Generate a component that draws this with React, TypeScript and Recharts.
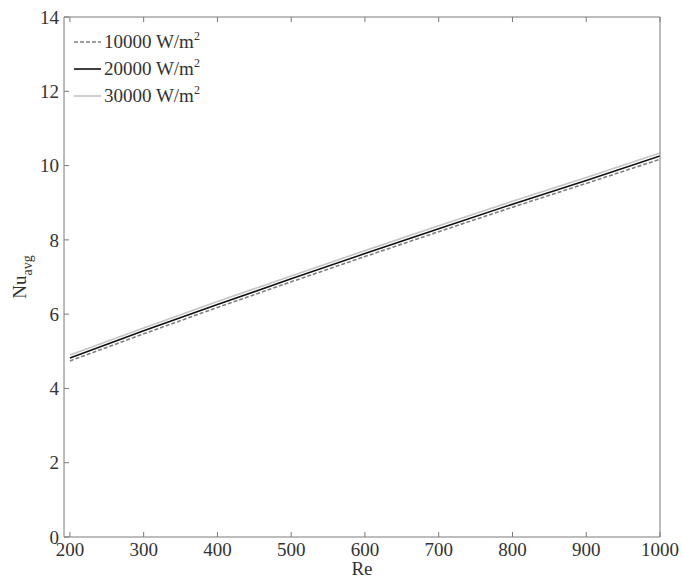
import { LineChart, Line, XAxis, YAxis } from "recharts";

const reValues = [200, 300, 400, 500, 600, 700, 800, 900, 1000];
const nu10000 = [4.74, 5.47, 6.18, 6.87, 7.55, 8.22, 8.88, 9.52, 10.17];
const nu20000 = [4.82, 5.55, 6.26, 6.95, 7.63, 8.3, 8.96, 9.6, 10.26];
const nu30000 = [4.9, 5.63, 6.34, 7.03, 7.71, 8.38, 9.04, 9.68, 10.34];
const xTicks = [200, 300, 400, 500, 600, 700, 800, 900, 1000];
const yTicks = [0, 2, 4, 6, 8, 10, 12, 14];

const data = reValues.map((re, i) => ({
  re,
  q10000: nu10000[i],
  q20000: nu20000[i],
  q30000: nu30000[i],
}));

const FONT = "'Liberation Serif', 'Times New Roman', serif";
const AXIS = "#7a7a7a";
const TXT = "#333";

const legendItems = [
  { label: "10000", color: "#808080", dash: "4 2" },
  { label: "20000", color: "#111", dash: undefined },
  { label: "30000", color: "#c4c4c4", dash: undefined },
];

const LegendBox = () => (
  <div
    style={{
      position: "absolute",
      left: 72,
      top: 28,
      fontFamily: FONT,
      fontSize: 19,
      color: TXT,
      lineHeight: "27px",
    }}
  >
    {legendItems.map((it) => (
      <div key={it.label} style={{ display: "flex", alignItems: "center", whiteSpace: "nowrap" }}>
        <svg width={30} height={10} style={{ marginRight: 2 }}>
          <line x1={2} y1={5} x2={29} y2={5} stroke={it.color} strokeWidth={1.6} strokeDasharray={it.dash} />
        </svg>
        <span>
          {it.label} W/m<sup style={{ fontSize: 12, verticalAlign: "8px", lineHeight: 0 }}>2</sup>
        </span>
      </div>
    ))}
  </div>
);

const NoTick = () => <g />;

export default function App() {
  return (
    <div style={{ position: "absolute", left: 0, top: 0, width: 682, height: 580, background: "#fff" }}>
      <LineChart width={682} height={580} data={data} margin={{ top: 16, right: 21, bottom: 0, left: 0 }}>
        <XAxis
          xAxisId="b"
          dataKey="re"
          type="number"
          domain={[192, 1000]}
          ticks={xTicks}
          allowDataOverflow
          height={43}
          stroke={AXIS}
          tickSize={-5}
          tickMargin={11}
          tick={{ fill: TXT, fontFamily: FONT, fontSize: 19 }}
        />
        <XAxis
          xAxisId="t"
          orientation="top"
          dataKey="re"
          type="number"
          domain={[192, 1000]}
          ticks={xTicks}
          allowDataOverflow
          height={1}
          stroke={AXIS}
          tickSize={-5}
          tick={<NoTick />}
        />
        <YAxis
          yAxisId="l"
          type="number"
          domain={[0, 14]}
          ticks={yTicks}
          width={64}
          stroke={AXIS}
          tickSize={-5}
          tickMargin={10}
          tick={{ fill: TXT, fontFamily: FONT, fontSize: 19 }}
        />
        <YAxis
          yAxisId="r"
          orientation="right"
          type="number"
          domain={[0, 14]}
          ticks={yTicks}
          width={1}
          stroke={AXIS}
          tickSize={-5}
          tick={<NoTick />}
        />
        <text x={26} y={277} transform="rotate(-90 26 277)" textAnchor="middle" fill={TXT} fontFamily={FONT} fontSize={19}>
          Nu<tspan fontSize={14} dy={6}>avg</tspan>
        </text>
        <text x={362} y={575} textAnchor="middle" fill={TXT} fontFamily={FONT} fontSize={19}>
          Re
        </text>
        <Line xAxisId="b" yAxisId="l" dataKey="q30000" stroke="#c4c4c4" strokeWidth={1.6} dot={false} isAnimationActive={false} />
        <Line xAxisId="b" yAxisId="l" dataKey="q20000" stroke="#111" strokeWidth={1.6} dot={false} isAnimationActive={false} />
        <Line xAxisId="b" yAxisId="l" dataKey="q10000" stroke="#808080" strokeWidth={1.6} strokeDasharray="4 2" dot={false} isAnimationActive={false} />
      </LineChart>
      <LegendBox />
    </div>
  );
}
